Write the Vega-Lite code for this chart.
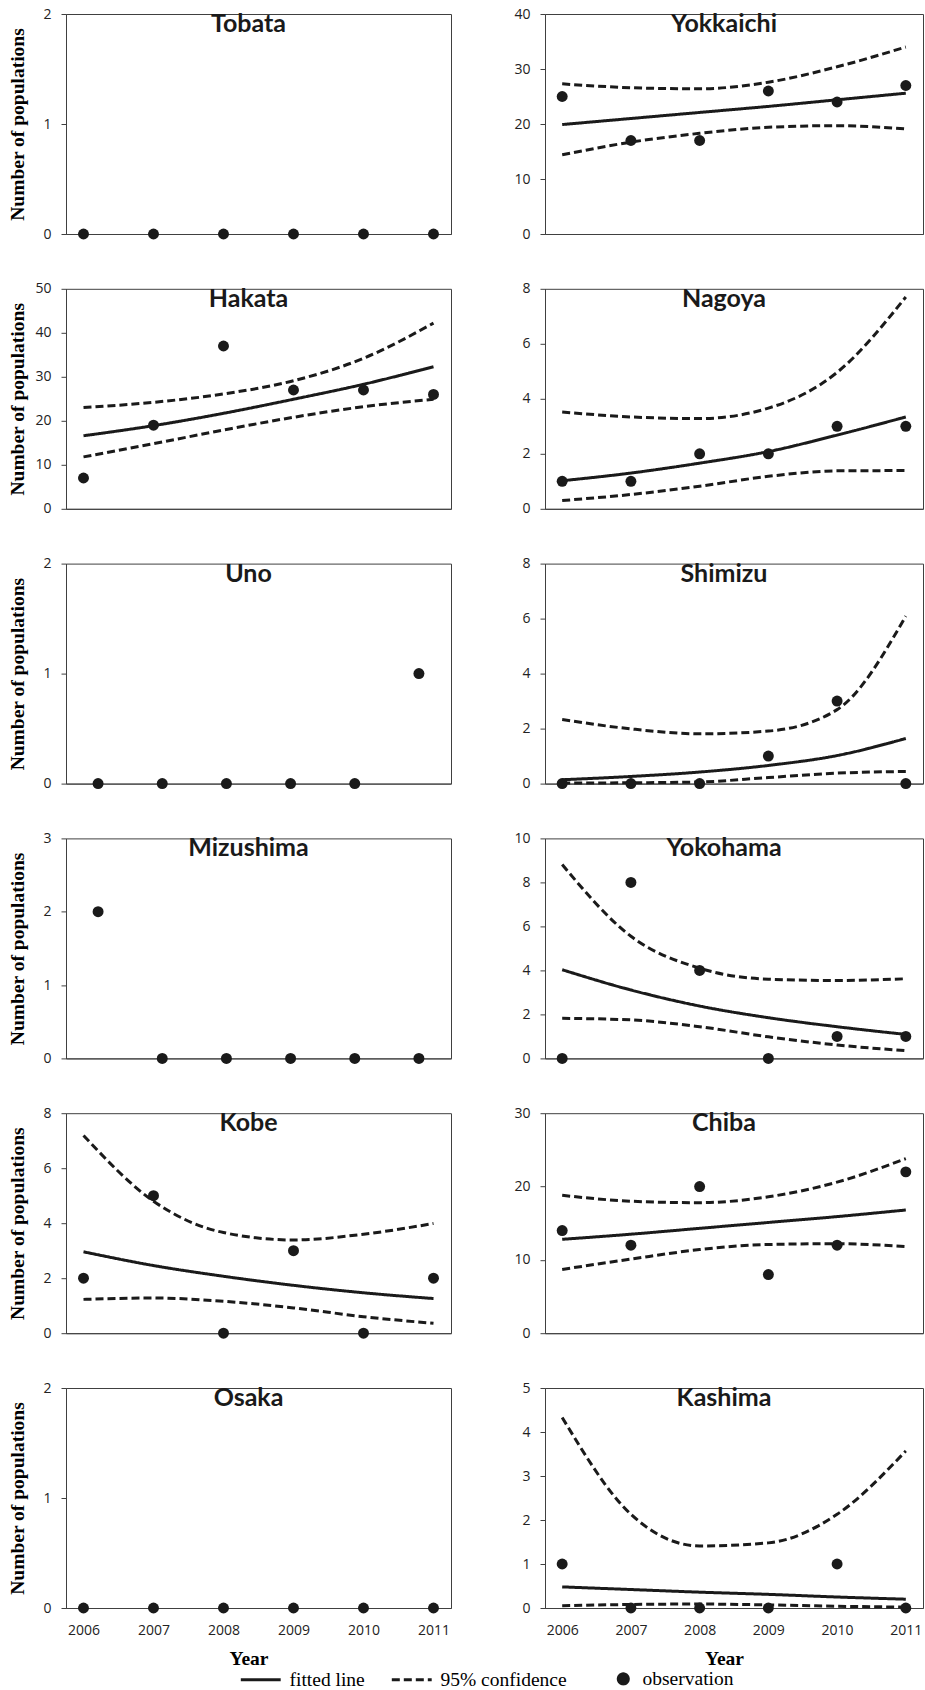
{
"$schema":"https://vega.github.io/schema/vega-lite/v6.json",
"padding":{"left":6,"top":6,"right":0,"bottom":0},
"background":"white",
"data":{"values":[
{"port":"Tobata","year":2006,"series":"observation","value":0},{"port":"Tobata","year":2007,"series":"observation","value":0},{"port":"Tobata","year":2008,"series":"observation","value":0},{"port":"Tobata","year":2009,"series":"observation","value":0},{"port":"Tobata","year":2010,"series":"observation","value":0},{"port":"Tobata","year":2011,"series":"observation","value":0},
{"port":"Osaka","year":2006,"series":"observation","value":0},{"port":"Osaka","year":2007,"series":"observation","value":0},{"port":"Osaka","year":2008,"series":"observation","value":0},{"port":"Osaka","year":2009,"series":"observation","value":0},{"port":"Osaka","year":2010,"series":"observation","value":0},{"port":"Osaka","year":2011,"series":"observation","value":0},
{"port":"Uno","year":2006,"series":"observation","value":0},{"port":"Uno","year":2007,"series":"observation","value":0},{"port":"Uno","year":2008,"series":"observation","value":0},{"port":"Uno","year":2009,"series":"observation","value":0},{"port":"Uno","year":2010,"series":"observation","value":0},{"port":"Uno","year":2011,"series":"observation","value":1},
{"port":"Mizushima","year":2006,"series":"observation","value":2},{"port":"Mizushima","year":2007,"series":"observation","value":0},{"port":"Mizushima","year":2008,"series":"observation","value":0},{"port":"Mizushima","year":2009,"series":"observation","value":0},{"port":"Mizushima","year":2010,"series":"observation","value":0},{"port":"Mizushima","year":2011,"series":"observation","value":0},
{"port":"Yokkaichi","year":2006,"series":"observation","value":25},{"port":"Yokkaichi","year":2007,"series":"observation","value":17},{"port":"Yokkaichi","year":2008,"series":"observation","value":17},{"port":"Yokkaichi","year":2009,"series":"observation","value":26},{"port":"Yokkaichi","year":2010,"series":"observation","value":24},{"port":"Yokkaichi","year":2011,"series":"observation","value":27},
{"port":"Yokkaichi","year":2006,"series":"fitted line","bound":"fit","value":19.9},{"port":"Yokkaichi","year":2007,"series":"fitted line","bound":"fit","value":21.0},{"port":"Yokkaichi","year":2008,"series":"fitted line","bound":"fit","value":22.1},{"port":"Yokkaichi","year":2009,"series":"fitted line","bound":"fit","value":23.2},{"port":"Yokkaichi","year":2010,"series":"fitted line","bound":"fit","value":24.4},{"port":"Yokkaichi","year":2011,"series":"fitted line","bound":"fit","value":25.6},
{"port":"Yokkaichi","year":2006,"series":"95% confidence","bound":"upper","value":27.3},{"port":"Yokkaichi","year":2007,"series":"95% confidence","bound":"upper","value":26.6},{"port":"Yokkaichi","year":2008,"series":"95% confidence","bound":"upper","value":26.4},{"port":"Yokkaichi","year":2009,"series":"95% confidence","bound":"upper","value":27.6},{"port":"Yokkaichi","year":2010,"series":"95% confidence","bound":"upper","value":30.4},{"port":"Yokkaichi","year":2011,"series":"95% confidence","bound":"upper","value":34.0},
{"port":"Yokkaichi","year":2006,"series":"95% confidence","bound":"lower","value":14.4},{"port":"Yokkaichi","year":2007,"series":"95% confidence","bound":"lower","value":16.7},{"port":"Yokkaichi","year":2008,"series":"95% confidence","bound":"lower","value":18.3},{"port":"Yokkaichi","year":2009,"series":"95% confidence","bound":"lower","value":19.4},{"port":"Yokkaichi","year":2010,"series":"95% confidence","bound":"lower","value":19.7},{"port":"Yokkaichi","year":2011,"series":"95% confidence","bound":"lower","value":19.1},
{"port":"Hakata","year":2006,"series":"observation","value":7},{"port":"Hakata","year":2007,"series":"observation","value":19},{"port":"Hakata","year":2008,"series":"observation","value":37},{"port":"Hakata","year":2009,"series":"observation","value":27},{"port":"Hakata","year":2010,"series":"observation","value":27},{"port":"Hakata","year":2011,"series":"observation","value":26},
{"port":"Hakata","year":2006,"series":"fitted line","bound":"fit","value":16.6},{"port":"Hakata","year":2007,"series":"fitted line","bound":"fit","value":18.9},{"port":"Hakata","year":2008,"series":"fitted line","bound":"fit","value":21.7},{"port":"Hakata","year":2009,"series":"fitted line","bound":"fit","value":24.9},{"port":"Hakata","year":2010,"series":"fitted line","bound":"fit","value":28.3},{"port":"Hakata","year":2011,"series":"fitted line","bound":"fit","value":32.3},
{"port":"Hakata","year":2006,"series":"95% confidence","bound":"upper","value":23.0},{"port":"Hakata","year":2007,"series":"95% confidence","bound":"upper","value":24.2},{"port":"Hakata","year":2008,"series":"95% confidence","bound":"upper","value":26.1},{"port":"Hakata","year":2009,"series":"95% confidence","bound":"upper","value":29.1},{"port":"Hakata","year":2010,"series":"95% confidence","bound":"upper","value":34.2},{"port":"Hakata","year":2011,"series":"95% confidence","bound":"upper","value":42.2},
{"port":"Hakata","year":2006,"series":"95% confidence","bound":"lower","value":11.8},{"port":"Hakata","year":2007,"series":"95% confidence","bound":"lower","value":14.8},{"port":"Hakata","year":2008,"series":"95% confidence","bound":"lower","value":17.9},{"port":"Hakata","year":2009,"series":"95% confidence","bound":"lower","value":20.8},{"port":"Hakata","year":2010,"series":"95% confidence","bound":"lower","value":23.2},{"port":"Hakata","year":2011,"series":"95% confidence","bound":"lower","value":24.9},
{"port":"Nagoya","year":2006,"series":"observation","value":1},{"port":"Nagoya","year":2007,"series":"observation","value":1},{"port":"Nagoya","year":2008,"series":"observation","value":2},{"port":"Nagoya","year":2009,"series":"observation","value":2},{"port":"Nagoya","year":2010,"series":"observation","value":3},{"port":"Nagoya","year":2011,"series":"observation","value":3},
{"port":"Nagoya","year":2006,"series":"fitted line","bound":"fit","value":1.02},{"port":"Nagoya","year":2007,"series":"fitted line","bound":"fit","value":1.30},{"port":"Nagoya","year":2008,"series":"fitted line","bound":"fit","value":1.66},{"port":"Nagoya","year":2009,"series":"fitted line","bound":"fit","value":2.08},{"port":"Nagoya","year":2010,"series":"fitted line","bound":"fit","value":2.68},{"port":"Nagoya","year":2011,"series":"fitted line","bound":"fit","value":3.34},
{"port":"Nagoya","year":2006,"series":"95% confidence","bound":"upper","value":3.52},{"port":"Nagoya","year":2007,"series":"95% confidence","bound":"upper","value":3.34},{"port":"Nagoya","year":2008,"series":"95% confidence","bound":"upper","value":3.28},{"port":"Nagoya","year":2009,"series":"95% confidence","bound":"upper","value":3.66},{"port":"Nagoya","year":2010,"series":"95% confidence","bound":"upper","value":4.96},{"port":"Nagoya","year":2011,"series":"95% confidence","bound":"upper","value":7.7},
{"port":"Nagoya","year":2006,"series":"95% confidence","bound":"lower","value":0.30},{"port":"Nagoya","year":2007,"series":"95% confidence","bound":"lower","value":0.52},{"port":"Nagoya","year":2008,"series":"95% confidence","bound":"lower","value":0.82},{"port":"Nagoya","year":2009,"series":"95% confidence","bound":"lower","value":1.18},{"port":"Nagoya","year":2010,"series":"95% confidence","bound":"lower","value":1.38},{"port":"Nagoya","year":2011,"series":"95% confidence","bound":"lower","value":1.39},
{"port":"Shimizu","year":2006,"series":"observation","value":0},{"port":"Shimizu","year":2007,"series":"observation","value":0},{"port":"Shimizu","year":2008,"series":"observation","value":0},{"port":"Shimizu","year":2009,"series":"observation","value":1},{"port":"Shimizu","year":2010,"series":"observation","value":3},{"port":"Shimizu","year":2011,"series":"observation","value":0},
{"port":"Shimizu","year":2006,"series":"fitted line","bound":"fit","value":0.14},{"port":"Shimizu","year":2007,"series":"fitted line","bound":"fit","value":0.26},{"port":"Shimizu","year":2008,"series":"fitted line","bound":"fit","value":0.42},{"port":"Shimizu","year":2009,"series":"fitted line","bound":"fit","value":0.66},{"port":"Shimizu","year":2010,"series":"fitted line","bound":"fit","value":1.02},{"port":"Shimizu","year":2011,"series":"fitted line","bound":"fit","value":1.64},
{"port":"Shimizu","year":2006,"series":"95% confidence","bound":"upper","value":2.33},{"port":"Shimizu","year":2007,"series":"95% confidence","bound":"upper","value":1.99},{"port":"Shimizu","year":2008,"series":"95% confidence","bound":"upper","value":1.81},{"port":"Shimizu","year":2009,"series":"95% confidence","bound":"upper","value":1.91},{"port":"Shimizu","year":2010,"series":"95% confidence","bound":"upper","value":2.69},{"port":"Shimizu","year":2011,"series":"95% confidence","bound":"upper","value":6.09},
{"port":"Shimizu","year":2006,"series":"95% confidence","bound":"lower","value":0.02},{"port":"Shimizu","year":2007,"series":"95% confidence","bound":"lower","value":0.03},{"port":"Shimizu","year":2008,"series":"95% confidence","bound":"lower","value":0.06},{"port":"Shimizu","year":2009,"series":"95% confidence","bound":"lower","value":0.22},{"port":"Shimizu","year":2010,"series":"95% confidence","bound":"lower","value":0.38},{"port":"Shimizu","year":2011,"series":"95% confidence","bound":"lower","value":0.44},
{"port":"Yokohama","year":2006,"series":"observation","value":0},{"port":"Yokohama","year":2007,"series":"observation","value":8},{"port":"Yokohama","year":2008,"series":"observation","value":4},{"port":"Yokohama","year":2009,"series":"observation","value":0},{"port":"Yokohama","year":2010,"series":"observation","value":1},{"port":"Yokohama","year":2011,"series":"observation","value":1},
{"port":"Yokohama","year":2006,"series":"fitted line","bound":"fit","value":4.03},{"port":"Yokohama","year":2007,"series":"fitted line","bound":"fit","value":3.11},{"port":"Yokohama","year":2008,"series":"fitted line","bound":"fit","value":2.38},{"port":"Yokohama","year":2009,"series":"fitted line","bound":"fit","value":1.85},{"port":"Yokohama","year":2010,"series":"fitted line","bound":"fit","value":1.44},{"port":"Yokohama","year":2011,"series":"fitted line","bound":"fit","value":1.09},
{"port":"Yokohama","year":2006,"series":"95% confidence","bound":"upper","value":8.81},{"port":"Yokohama","year":2007,"series":"95% confidence","bound":"upper","value":5.55},{"port":"Yokohama","year":2008,"series":"95% confidence","bound":"upper","value":4.1},{"port":"Yokohama","year":2009,"series":"95% confidence","bound":"upper","value":3.6},{"port":"Yokohama","year":2010,"series":"95% confidence","bound":"upper","value":3.54},{"port":"Yokohama","year":2011,"series":"95% confidence","bound":"upper","value":3.62},
{"port":"Yokohama","year":2006,"series":"95% confidence","bound":"lower","value":1.82},{"port":"Yokohama","year":2007,"series":"95% confidence","bound":"lower","value":1.75},{"port":"Yokohama","year":2008,"series":"95% confidence","bound":"lower","value":1.44},{"port":"Yokohama","year":2009,"series":"95% confidence","bound":"lower","value":0.98},{"port":"Yokohama","year":2010,"series":"95% confidence","bound":"lower","value":0.61},{"port":"Yokohama","year":2011,"series":"95% confidence","bound":"lower","value":0.35},
{"port":"Kobe","year":2006,"series":"observation","value":2},{"port":"Kobe","year":2007,"series":"observation","value":5},{"port":"Kobe","year":2008,"series":"observation","value":0},{"port":"Kobe","year":2009,"series":"observation","value":3},{"port":"Kobe","year":2010,"series":"observation","value":0},{"port":"Kobe","year":2011,"series":"observation","value":2},
{"port":"Kobe","year":2006,"series":"fitted line","bound":"fit","value":2.96},{"port":"Kobe","year":2007,"series":"fitted line","bound":"fit","value":2.46},{"port":"Kobe","year":2008,"series":"fitted line","bound":"fit","value":2.07},{"port":"Kobe","year":2009,"series":"fitted line","bound":"fit","value":1.74},{"port":"Kobe","year":2010,"series":"fitted line","bound":"fit","value":1.47},{"port":"Kobe","year":2011,"series":"fitted line","bound":"fit","value":1.26},
{"port":"Kobe","year":2006,"series":"95% confidence","bound":"upper","value":7.19},{"port":"Kobe","year":2007,"series":"95% confidence","bound":"upper","value":4.8},{"port":"Kobe","year":2008,"series":"95% confidence","bound":"upper","value":3.66},{"port":"Kobe","year":2009,"series":"95% confidence","bound":"upper","value":3.39},{"port":"Kobe","year":2010,"series":"95% confidence","bound":"upper","value":3.6},{"port":"Kobe","year":2011,"series":"95% confidence","bound":"upper","value":3.99},
{"port":"Kobe","year":2006,"series":"95% confidence","bound":"lower","value":1.23},{"port":"Kobe","year":2007,"series":"95% confidence","bound":"lower","value":1.28},{"port":"Kobe","year":2008,"series":"95% confidence","bound":"lower","value":1.16},{"port":"Kobe","year":2009,"series":"95% confidence","bound":"lower","value":0.92},{"port":"Kobe","year":2010,"series":"95% confidence","bound":"lower","value":0.6},{"port":"Kobe","year":2011,"series":"95% confidence","bound":"lower","value":0.36},
{"port":"Chiba","year":2006,"series":"observation","value":14},{"port":"Chiba","year":2007,"series":"observation","value":12},{"port":"Chiba","year":2008,"series":"observation","value":20},{"port":"Chiba","year":2009,"series":"observation","value":8},{"port":"Chiba","year":2010,"series":"observation","value":12},{"port":"Chiba","year":2011,"series":"observation","value":22},
{"port":"Chiba","year":2006,"series":"fitted line","bound":"fit","value":12.8},{"port":"Chiba","year":2007,"series":"fitted line","bound":"fit","value":13.5},{"port":"Chiba","year":2008,"series":"fitted line","bound":"fit","value":14.3},{"port":"Chiba","year":2009,"series":"fitted line","bound":"fit","value":15.1},{"port":"Chiba","year":2010,"series":"fitted line","bound":"fit","value":15.9},{"port":"Chiba","year":2011,"series":"fitted line","bound":"fit","value":16.8},
{"port":"Chiba","year":2006,"series":"95% confidence","bound":"upper","value":18.8},{"port":"Chiba","year":2007,"series":"95% confidence","bound":"upper","value":18.0},{"port":"Chiba","year":2008,"series":"95% confidence","bound":"upper","value":17.8},{"port":"Chiba","year":2009,"series":"95% confidence","bound":"upper","value":18.6},{"port":"Chiba","year":2010,"series":"95% confidence","bound":"upper","value":20.6},{"port":"Chiba","year":2011,"series":"95% confidence","bound":"upper","value":23.8},
{"port":"Chiba","year":2006,"series":"95% confidence","bound":"lower","value":8.7},{"port":"Chiba","year":2007,"series":"95% confidence","bound":"lower","value":10.1},{"port":"Chiba","year":2008,"series":"95% confidence","bound":"lower","value":11.4},{"port":"Chiba","year":2009,"series":"95% confidence","bound":"lower","value":12.1},{"port":"Chiba","year":2010,"series":"95% confidence","bound":"lower","value":12.2},{"port":"Chiba","year":2011,"series":"95% confidence","bound":"lower","value":11.8},
{"port":"Kashima","year":2006,"series":"observation","value":1},{"port":"Kashima","year":2007,"series":"observation","value":0},{"port":"Kashima","year":2008,"series":"observation","value":0},{"port":"Kashima","year":2009,"series":"observation","value":0},{"port":"Kashima","year":2010,"series":"observation","value":1},{"port":"Kashima","year":2011,"series":"observation","value":0},
{"port":"Kashima","year":2006,"series":"fitted line","bound":"fit","value":0.48},{"port":"Kashima","year":2007,"series":"fitted line","bound":"fit","value":0.42},{"port":"Kashima","year":2008,"series":"fitted line","bound":"fit","value":0.36},{"port":"Kashima","year":2009,"series":"fitted line","bound":"fit","value":0.31},{"port":"Kashima","year":2010,"series":"fitted line","bound":"fit","value":0.25},{"port":"Kashima","year":2011,"series":"fitted line","bound":"fit","value":0.2},
{"port":"Kashima","year":2006,"series":"95% confidence","bound":"upper","value":4.33},{"port":"Kashima","year":2007,"series":"95% confidence","bound":"upper","value":2.13},{"port":"Kashima","year":2008,"series":"95% confidence","bound":"upper","value":1.41},{"port":"Kashima","year":2009,"series":"95% confidence","bound":"upper","value":1.48},{"port":"Kashima","year":2010,"series":"95% confidence","bound":"upper","value":2.13},{"port":"Kashima","year":2011,"series":"95% confidence","bound":"upper","value":3.57},
{"port":"Kashima","year":2006,"series":"95% confidence","bound":"lower","value":0.05},{"port":"Kashima","year":2007,"series":"95% confidence","bound":"lower","value":0.08},{"port":"Kashima","year":2008,"series":"95% confidence","bound":"lower","value":0.09},{"port":"Kashima","year":2009,"series":"95% confidence","bound":"lower","value":0.07},{"port":"Kashima","year":2010,"series":"95% confidence","bound":"lower","value":0.04},{"port":"Kashima","year":2011,"series":"95% confidence","bound":"lower","value":0.02}
]},
"columns":2,
"spacing":{"row":54.8,"column":94},
"bounds":"flush",
"concat":[
{"width":385,"height":220,"title":{"text":"Tobata"},"transform":[{"filter":"datum.port == 'Tobata'"}],
 "encoding":{"x":{"field":"year","type":"quantitative","scale":{"domain":[2005.75,2011.25],"nice":false,"zero":false},"axis":{"labels":false,"ticks":false,"title":null}},
  "y":{"field":"value","type":"quantitative","scale":{"domain":[0,2],"nice":false},"axis":{"tickCount":2,"format":"d","title":"Number of populations","titleX":-43,"titleY":110,"titleBaseline":"alphabetic"}}},
 "layer":[
  {"transform":[{"filter":"datum.series == 'observation'"}],"mark":{"type":"point","filled":true,"shape":"circle","size":120,"color":"#1a1a1a","opacity":1}},
  {"transform":[{"filter":"datum.series == 'observation'"}],"mark":{"type":"point","filled":true,"size":120,"color":"#1a1a1a","opacity":0},
  "encoding":{"shape":{"field":"series","type":"nominal","scale":{"domain":["fitted line","95% confidence","observation"],"range":["M-4.5,0H4.5","M-4.5,0H4.5","M-4.62,0M1.02,0A1.13,1.13,0,1,0,3.28,0A1.13,1.13,0,1,0,1.02,0Z"]},"legend":{"title":null,"orient":"none","legendX":185,"legendY":1655,"direction":"horizontal","encode":{"symbols":{"update":{"fill":{"value":"#1a1a1a"},"stroke":{"value":"#1a1a1a"},"strokeWidth":{"value":3},"opacity":{"value":1}}}}}}}}]},
{"width":378,"height":220,"title":{"text":"Yokkaichi"},"transform":[{"filter":"datum.port == 'Yokkaichi'"}],
 "encoding":{"x":{"field":"year","type":"quantitative","scale":{"domain":[2005.75,2011.25],"nice":false,"zero":false},"axis":{"labels":false,"ticks":false,"title":null}},
  "y":{"field":"value","type":"quantitative","scale":{"domain":[0,40],"nice":false},"axis":{"values":[0,10,20,30,40],"format":"d","title":null}}},
 "layer":[
  {"transform":[{"filter":"datum.series != 'observation'"}],"mark":{"type":"line","interpolate":"monotone","color":"#1a1a1a","strokeWidth":3},
   "encoding":{"detail":{"field":"bound"},"strokeDash":{"field":"series","type":"nominal","scale":{"domain":["fitted line","95% confidence","observation"],"range":[[1,0],[8,4],[1,0]]},"legend":{"title":null,"orient":"none","legendX":185,"legendY":1655,"direction":"horizontal","encode":{"symbols":{"update":{"fill":{"value":"#1a1a1a"},"stroke":{"value":"#1a1a1a"},"strokeWidth":{"value":3},"opacity":{"value":1}}}}}}}},
  {"transform":[{"filter":"datum.series == 'observation'"}],"mark":{"type":"point","filled":true,"shape":"circle","size":120,"color":"#1a1a1a","opacity":1}}]},
{"width":385,"height":220,"title":{"text":"Hakata"},"transform":[{"filter":"datum.port == 'Hakata'"}],
 "encoding":{"x":{"field":"year","type":"quantitative","scale":{"domain":[2005.75,2011.25],"nice":false,"zero":false},"axis":{"labels":false,"ticks":false,"title":null}},
  "y":{"field":"value","type":"quantitative","scale":{"domain":[0,50],"nice":false},"axis":{"values":[0,10,20,30,40,50],"format":"d","title":"Number of populations","titleX":-43,"titleY":110,"titleBaseline":"alphabetic"}}},
 "layer":[
  {"transform":[{"filter":"datum.series != 'observation'"}],"mark":{"type":"line","interpolate":"monotone","color":"#1a1a1a","strokeWidth":3},
   "encoding":{"detail":{"field":"bound"},"strokeDash":{"field":"series","type":"nominal","scale":{"domain":["fitted line","95% confidence","observation"],"range":[[1,0],[8,4],[1,0]]},"legend":{"title":null,"orient":"none","legendX":185,"legendY":1655,"direction":"horizontal","encode":{"symbols":{"update":{"fill":{"value":"#1a1a1a"},"stroke":{"value":"#1a1a1a"},"strokeWidth":{"value":3},"opacity":{"value":1}}}}}}}},
  {"transform":[{"filter":"datum.series == 'observation'"}],"mark":{"type":"point","filled":true,"shape":"circle","size":120,"color":"#1a1a1a","opacity":1}}]},
{"width":378,"height":220,"title":{"text":"Nagoya"},"transform":[{"filter":"datum.port == 'Nagoya'"}],
 "encoding":{"x":{"field":"year","type":"quantitative","scale":{"domain":[2005.75,2011.25],"nice":false,"zero":false},"axis":{"labels":false,"ticks":false,"title":null}},
  "y":{"field":"value","type":"quantitative","scale":{"domain":[0,8],"nice":false},"axis":{"values":[0,2,4,6,8],"format":"d","title":null}}},
 "layer":[
  {"transform":[{"filter":"datum.series != 'observation'"}],"mark":{"type":"line","interpolate":"monotone","color":"#1a1a1a","strokeWidth":3},
   "encoding":{"detail":{"field":"bound"},"strokeDash":{"field":"series","type":"nominal","scale":{"domain":["fitted line","95% confidence","observation"],"range":[[1,0],[8,4],[1,0]]},"legend":{"title":null,"orient":"none","legendX":185,"legendY":1655,"direction":"horizontal","encode":{"symbols":{"update":{"fill":{"value":"#1a1a1a"},"stroke":{"value":"#1a1a1a"},"strokeWidth":{"value":3},"opacity":{"value":1}}}}}}}},
  {"transform":[{"filter":"datum.series == 'observation'"}],"mark":{"type":"point","filled":true,"shape":"circle","size":120,"color":"#1a1a1a","opacity":1}}]},
{"width":385,"height":220,"title":{"text":"Uno"},"transform":[{"filter":"datum.port == 'Uno'"}],
 "encoding":{"x":{"field":"year","type":"quantitative","scale":{"domain":[2005.5,2011.5],"nice":false,"zero":false},"axis":{"labels":false,"ticks":false,"title":null}},
  "y":{"field":"value","type":"quantitative","scale":{"domain":[0,2],"nice":false},"axis":{"tickCount":2,"format":"d","title":"Number of populations","titleX":-43,"titleY":110,"titleBaseline":"alphabetic"}}},
 "layer":[
  {"transform":[{"filter":"datum.series == 'observation'"}],"mark":{"type":"point","filled":true,"shape":"circle","size":120,"color":"#1a1a1a","opacity":1}}]},
{"width":378,"height":220,"title":{"text":"Shimizu"},"transform":[{"filter":"datum.port == 'Shimizu'"}],
 "encoding":{"x":{"field":"year","type":"quantitative","scale":{"domain":[2005.75,2011.25],"nice":false,"zero":false},"axis":{"labels":false,"ticks":false,"title":null}},
  "y":{"field":"value","type":"quantitative","scale":{"domain":[0,8],"nice":false},"axis":{"values":[0,2,4,6,8],"format":"d","title":null}}},
 "layer":[
  {"transform":[{"filter":"datum.series != 'observation'"}],"mark":{"type":"line","interpolate":"monotone","color":"#1a1a1a","strokeWidth":3},
   "encoding":{"detail":{"field":"bound"},"strokeDash":{"field":"series","type":"nominal","scale":{"domain":["fitted line","95% confidence","observation"],"range":[[1,0],[8,4],[1,0]]},"legend":{"title":null,"orient":"none","legendX":185,"legendY":1655,"direction":"horizontal","encode":{"symbols":{"update":{"fill":{"value":"#1a1a1a"},"stroke":{"value":"#1a1a1a"},"strokeWidth":{"value":3},"opacity":{"value":1}}}}}}}},
  {"transform":[{"filter":"datum.series == 'observation'"}],"mark":{"type":"point","filled":true,"shape":"circle","size":120,"color":"#1a1a1a","opacity":1}}]},
{"width":385,"height":220,"title":{"text":"Mizushima"},"transform":[{"filter":"datum.port == 'Mizushima'"}],
 "encoding":{"x":{"field":"year","type":"quantitative","scale":{"domain":[2005.5,2011.5],"nice":false,"zero":false},"axis":{"labels":false,"ticks":false,"title":null}},
  "y":{"field":"value","type":"quantitative","scale":{"domain":[0,3],"nice":false},"axis":{"values":[0,1,2,3],"format":"d","title":"Number of populations","titleX":-43,"titleY":110,"titleBaseline":"alphabetic"}}},
 "layer":[
  {"transform":[{"filter":"datum.series == 'observation'"}],"mark":{"type":"point","filled":true,"shape":"circle","size":120,"color":"#1a1a1a","opacity":1}}]},
{"width":378,"height":220,"title":{"text":"Yokohama"},"transform":[{"filter":"datum.port == 'Yokohama'"}],
 "encoding":{"x":{"field":"year","type":"quantitative","scale":{"domain":[2005.75,2011.25],"nice":false,"zero":false},"axis":{"labels":false,"ticks":false,"title":null}},
  "y":{"field":"value","type":"quantitative","scale":{"domain":[0,10],"nice":false},"axis":{"values":[0,2,4,6,8,10],"format":"d","title":null}}},
 "layer":[
  {"transform":[{"filter":"datum.series != 'observation'"}],"mark":{"type":"line","interpolate":"monotone","color":"#1a1a1a","strokeWidth":3},
   "encoding":{"detail":{"field":"bound"},"strokeDash":{"field":"series","type":"nominal","scale":{"domain":["fitted line","95% confidence","observation"],"range":[[1,0],[8,4],[1,0]]},"legend":{"title":null,"orient":"none","legendX":185,"legendY":1655,"direction":"horizontal","encode":{"symbols":{"update":{"fill":{"value":"#1a1a1a"},"stroke":{"value":"#1a1a1a"},"strokeWidth":{"value":3},"opacity":{"value":1}}}}}}}},
  {"transform":[{"filter":"datum.series == 'observation'"}],"mark":{"type":"point","filled":true,"shape":"circle","size":120,"color":"#1a1a1a","opacity":1}}]},
{"width":385,"height":220,"title":{"text":"Kobe"},"transform":[{"filter":"datum.port == 'Kobe'"}],
 "encoding":{"x":{"field":"year","type":"quantitative","scale":{"domain":[2005.75,2011.25],"nice":false,"zero":false},"axis":{"labels":false,"ticks":false,"title":null}},
  "y":{"field":"value","type":"quantitative","scale":{"domain":[0,8],"nice":false},"axis":{"values":[0,2,4,6,8],"format":"d","title":"Number of populations","titleX":-43,"titleY":110,"titleBaseline":"alphabetic"}}},
 "layer":[
  {"transform":[{"filter":"datum.series != 'observation'"}],"mark":{"type":"line","interpolate":"monotone","color":"#1a1a1a","strokeWidth":3},
   "encoding":{"detail":{"field":"bound"},"strokeDash":{"field":"series","type":"nominal","scale":{"domain":["fitted line","95% confidence","observation"],"range":[[1,0],[8,4],[1,0]]},"legend":{"title":null,"orient":"none","legendX":185,"legendY":1655,"direction":"horizontal","encode":{"symbols":{"update":{"fill":{"value":"#1a1a1a"},"stroke":{"value":"#1a1a1a"},"strokeWidth":{"value":3},"opacity":{"value":1}}}}}}}},
  {"transform":[{"filter":"datum.series == 'observation'"}],"mark":{"type":"point","filled":true,"shape":"circle","size":120,"color":"#1a1a1a","opacity":1}}]},
{"width":378,"height":220,"title":{"text":"Chiba"},"transform":[{"filter":"datum.port == 'Chiba'"}],
 "encoding":{"x":{"field":"year","type":"quantitative","scale":{"domain":[2005.75,2011.25],"nice":false,"zero":false},"axis":{"labels":false,"ticks":false,"title":null}},
  "y":{"field":"value","type":"quantitative","scale":{"domain":[0,30],"nice":false},"axis":{"values":[0,10,20,30],"format":"d","title":null}}},
 "layer":[
  {"transform":[{"filter":"datum.series != 'observation'"}],"mark":{"type":"line","interpolate":"monotone","color":"#1a1a1a","strokeWidth":3},
   "encoding":{"detail":{"field":"bound"},"strokeDash":{"field":"series","type":"nominal","scale":{"domain":["fitted line","95% confidence","observation"],"range":[[1,0],[8,4],[1,0]]},"legend":{"title":null,"orient":"none","legendX":185,"legendY":1655,"direction":"horizontal","encode":{"symbols":{"update":{"fill":{"value":"#1a1a1a"},"stroke":{"value":"#1a1a1a"},"strokeWidth":{"value":3},"opacity":{"value":1}}}}}}}},
  {"transform":[{"filter":"datum.series == 'observation'"}],"mark":{"type":"point","filled":true,"shape":"circle","size":120,"color":"#1a1a1a","opacity":1}}]},
{"width":385,"height":220,"title":{"text":"Osaka"},"transform":[{"filter":"datum.port == 'Osaka'"}],
 "encoding":{"x":{"field":"year","type":"quantitative","scale":{"domain":[2005.75,2011.25],"nice":false,"zero":false},"axis":{"values":[2006,2007,2008,2009,2010,2011],"format":"d","title":"Year","titleX":182.5,"titleY":56,"titleBaseline":"alphabetic"}},
  "y":{"field":"value","type":"quantitative","scale":{"domain":[0,2],"nice":false},"axis":{"tickCount":2,"format":"d","title":"Number of populations","titleX":-43,"titleY":110,"titleBaseline":"alphabetic"}}},
 "layer":[
  {"transform":[{"filter":"datum.series == 'observation'"}],"mark":{"type":"point","filled":true,"shape":"circle","size":120,"color":"#1a1a1a","opacity":1}}]},
{"width":378,"height":220,"title":{"text":"Kashima"},"transform":[{"filter":"datum.port == 'Kashima'"}],
 "encoding":{"x":{"field":"year","type":"quantitative","scale":{"domain":[2005.75,2011.25],"nice":false,"zero":false},"axis":{"values":[2006,2007,2008,2009,2010,2011],"format":"d","title":"Year","titleX":179,"titleY":56,"titleBaseline":"alphabetic"}},
  "y":{"field":"value","type":"quantitative","scale":{"domain":[0,5],"nice":false},"axis":{"values":[0,1,2,3,4,5],"format":"d","title":null}}},
 "layer":[
  {"transform":[{"filter":"datum.series != 'observation'"}],"mark":{"type":"line","interpolate":"monotone","color":"#1a1a1a","strokeWidth":3},
   "encoding":{"detail":{"field":"bound"},"strokeDash":{"field":"series","type":"nominal","scale":{"domain":["fitted line","95% confidence","observation"],"range":[[1,0],[8,4],[1,0]]},"legend":{"title":null,"orient":"none","legendX":185,"legendY":1655,"direction":"horizontal","encode":{"symbols":{"update":{"fill":{"value":"#1a1a1a"},"stroke":{"value":"#1a1a1a"},"strokeWidth":{"value":3},"opacity":{"value":1}}}}}}}},
  {"transform":[{"filter":"datum.series == 'observation'"}],"mark":{"type":"point","filled":true,"shape":"circle","size":120,"color":"#1a1a1a","opacity":1}}]}
],
"config":{
 "view":{"stroke":"#404040","strokeWidth":1},
 "axis":{"grid":false,"labelOverlap":false,"domainColor":"#404040","tickColor":"#404040","labelFont":"Open Sans","labelFontSize":14,"labelColor":"#222222","titleFont":"Liberation Serif","titleFontSize":19.5,"titleFontWeight":"bold","titleColor":"black"},
 "axisY":{"tickSize":5,"labelPadding":10},
 "axisX":{"ticks":false,"tickSize":0,"labelPadding":15},
 "title":{"font":"Lato","fontSize":25,"fontWeight":"bold","color":"#1a1a1a","anchor":"middle","frame":"group","offset":-30,"baseline":"alphabetic","dx":-10},
 "legend":{"labelFont":"Liberation Serif","labelFontSize":19.5,"labelColor":"black","symbolSize":78.6,"symbolStrokeWidth":3,"symbolFillColor":"#1a1a1a","symbolStrokeColor":"#1a1a1a","columnPadding":20,"labelOffset":19,"padding":0,"labelLimit":300}
}
}
